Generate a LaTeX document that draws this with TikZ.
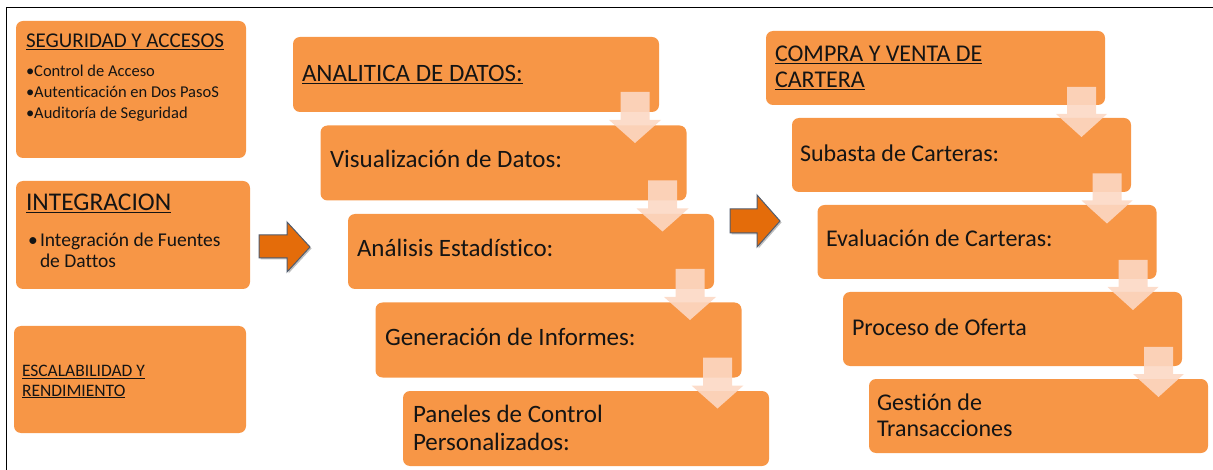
\documentclass[tikz,border=0pt]{standalone}
\usepackage{fontspec}
\setmainfont[Ligatures={NoCommon,NoRare,NoContextual}]{Carlito}
\definecolor{boxorange}{RGB}{247,150,70}
\definecolor{darkorange}{RGB}{228,108,10}
\definecolor{arrowline}{RGB}{80,92,110}
\definecolor{peach}{RGB}{252,216,196}
\definecolor{txt}{RGB}{20,20,20}
\tikzset{
  box/.style={draw=none, fill=boxorange, rounded corners=7pt, inner sep=0pt, outer sep=0pt, anchor=north west},
  lbl/.style={anchor=base west, inner sep=0pt, outer sep=0pt, text=txt},
  downarrow/.style={fill=peach, fill opacity=0.9, draw=none},
  bigarrow/.style={fill=darkorange, draw=arrowline, line width=1pt, line join=miter},
  bigshadow/.style={fill=black, fill opacity=0.25, draw=none},
  frameline/.style={draw=black, line width=1pt}
}
\newcommand{\fs}[1]{\fontsize{#1}{#1}\selectfont}
\begin{document}
\begin{tikzpicture}[x=1pt,y=-1pt]
\useasboundingbox (0,0) rectangle (1213,470);
% frame
\coordinate (fTL) at (6,8);
\coordinate (fTR) at (1213,8);
\coordinate (fBL) at (6,470);
\draw[frameline] (fTR) -- (fTL) -- (fBL);

% left column
\node[box, minimum width=230pt, minimum height=137pt] (seg) at (16,21) {};
\node[box, minimum width=234pt, minimum height=108pt] (int) at (16,181) {};
\node[box, minimum width=232pt, minimum height=107pt] (esc) at (14,326) {};

\node[lbl] (segT) at (26,48) {\fs{21}\underline{SEGURIDAD Y ACCESOS}};
\node[lbl] (segA) at (26,77) {\fs{16.5}•Control de Acceso};
\node[lbl] (segB) at (26,98) {\fs{16.5}•Autent\kern0pt icación en Dos PasoS};
\node[lbl] (segC) at (26,119) {\fs{16.5}•Auditoría de Seguridad};

\node[lbl] (intT) at (26,211) {\fs{25.5}\underline{INTEGRACION}};
\node[lbl] (intB) at (28,247) {\fs{19.5}•};
\node[lbl] (intA) at (40,247) {\fs{19.5}Integración de Fuentes};
\node[lbl] (intC) at (40,268) {\fs{19.5}de Dattos};

\node[lbl] (escA) at (22,377) {\fs{17.5}\underline{ESCALABILIDAD Y}};
\node[lbl] (escB) at (22,396) {\fs{17.5}\underline{RENDIMIENTO}};

% middle column
\node[box, minimum width=366pt, minimum height=75pt] (m1) at (293,37) {};
\node[box, minimum width=366pt, minimum height=75pt] (m2) at (320.5,125.5) {};
\node[box, minimum width=366pt, minimum height=75pt] (m3) at (348,214) {};
\node[box, minimum width=366pt, minimum height=75pt] (m4) at (375.5,302.5) {};
\node[box, minimum width=366pt, minimum height=75pt] (m5) at (403,391) {};

\node[lbl] (m1t) at (302,82) {\fs{25}\underline{ANALITICA DE DATOS:}};
\node[lbl] (m2t) at (330,168) {\fs{25}Visualización de Datos:};
\node[lbl] (m3t) at (357,256.5) {\fs{25}Análisis Estadíst\kern0pt ico:};
\node[lbl] (m4t) at (385,345) {\fs{25}Generación de Informes:};
\node[lbl] (m5a) at (413,422) {\fs{25}Paneles de Control};
\node[lbl] (m5b) at (413,450) {\fs{25}Personalizados:};

% right column
\node[box, minimum width=339pt, minimum height=74pt] (r1) at (766,31) {};
\node[box, minimum width=339pt, minimum height=74pt] (r2) at (792,118) {};
\node[box, minimum width=339pt, minimum height=74pt] (r3) at (817.5,205) {};
\node[box, minimum width=339pt, minimum height=74pt] (r4) at (843,292) {};
\node[box, minimum width=339pt, minimum height=74pt] (r5) at (869,379) {};

\node[lbl] (r1a) at (775,62) {\fs{24}\underline{COMPRA Y VENTA DE}};
\node[lbl] (r1b) at (775,88) {\fs{24}\underline{CARTERA}};
\node[lbl] (r2t) at (800,162) {\fs{24}Subasta de Carteras:};
\node[lbl] (r3t) at (826,247) {\fs{24}Evaluación de Carteras:};
\node[lbl] (r4t) at (852,335) {\fs{24}Proceso de Oferta};
\node[lbl] (r5a) at (877,410) {\fs{24}Gestión de};
\node[lbl] (r5b) at (877,436) {\fs{24}Transacciones};

% down arrows (middle)
\foreach \i/\cx/\ty in {1/635/92, 2/662.5/180.5, 3/690/269, 4/717.5/357.5}{
  \fill[downarrow] (\cx-14.5,\ty) -- (\cx+14.5,\ty) -- (\cx+14.5,\ty+28) -- (\cx+26,\ty+28)
     -- (\cx,\ty+51) -- (\cx-26,\ty+28) -- (\cx-14.5,\ty+28) -- cycle;
}
% down arrows (right)
\foreach \i/\cx/\ty in {1/1081.5/87, 2/1107/173.5, 3/1133/260, 4/1158.5/347}{
  \fill[downarrow] (\cx-14.5,\ty) -- (\cx+14.5,\ty) -- (\cx+14.5,\ty+27) -- (\cx+25.5,\ty+27)
     -- (\cx,\ty+50) -- (\cx-25.5,\ty+27) -- (\cx-14.5,\ty+27) -- cycle;
}

% big orange arrows
\fill[bigshadow] (260.5,236.5) -- (288.5,236.5) -- (288.5,223.5) -- (311.5,248.5) -- (288.5,273.5) -- (288.5,259.5) -- (260.5,259.5) -- cycle;
\draw[bigarrow] (259,235) -- (287,235) -- (287,222) -- (310,247) -- (287,272) -- (287,258) -- (259,258) -- cycle;
\fill[bigshadow] (731.5,210.5) -- (758.5,210.5) -- (758.5,196.5) -- (781.5,222.5) -- (758.5,248.5) -- (758.5,234.5) -- (731.5,234.5) -- cycle;
\draw[bigarrow] (730,209) -- (757,209) -- (757,195) -- (780,221) -- (757,247) -- (757,233) -- (730,233) -- cycle;
\end{tikzpicture}
\end{document}
